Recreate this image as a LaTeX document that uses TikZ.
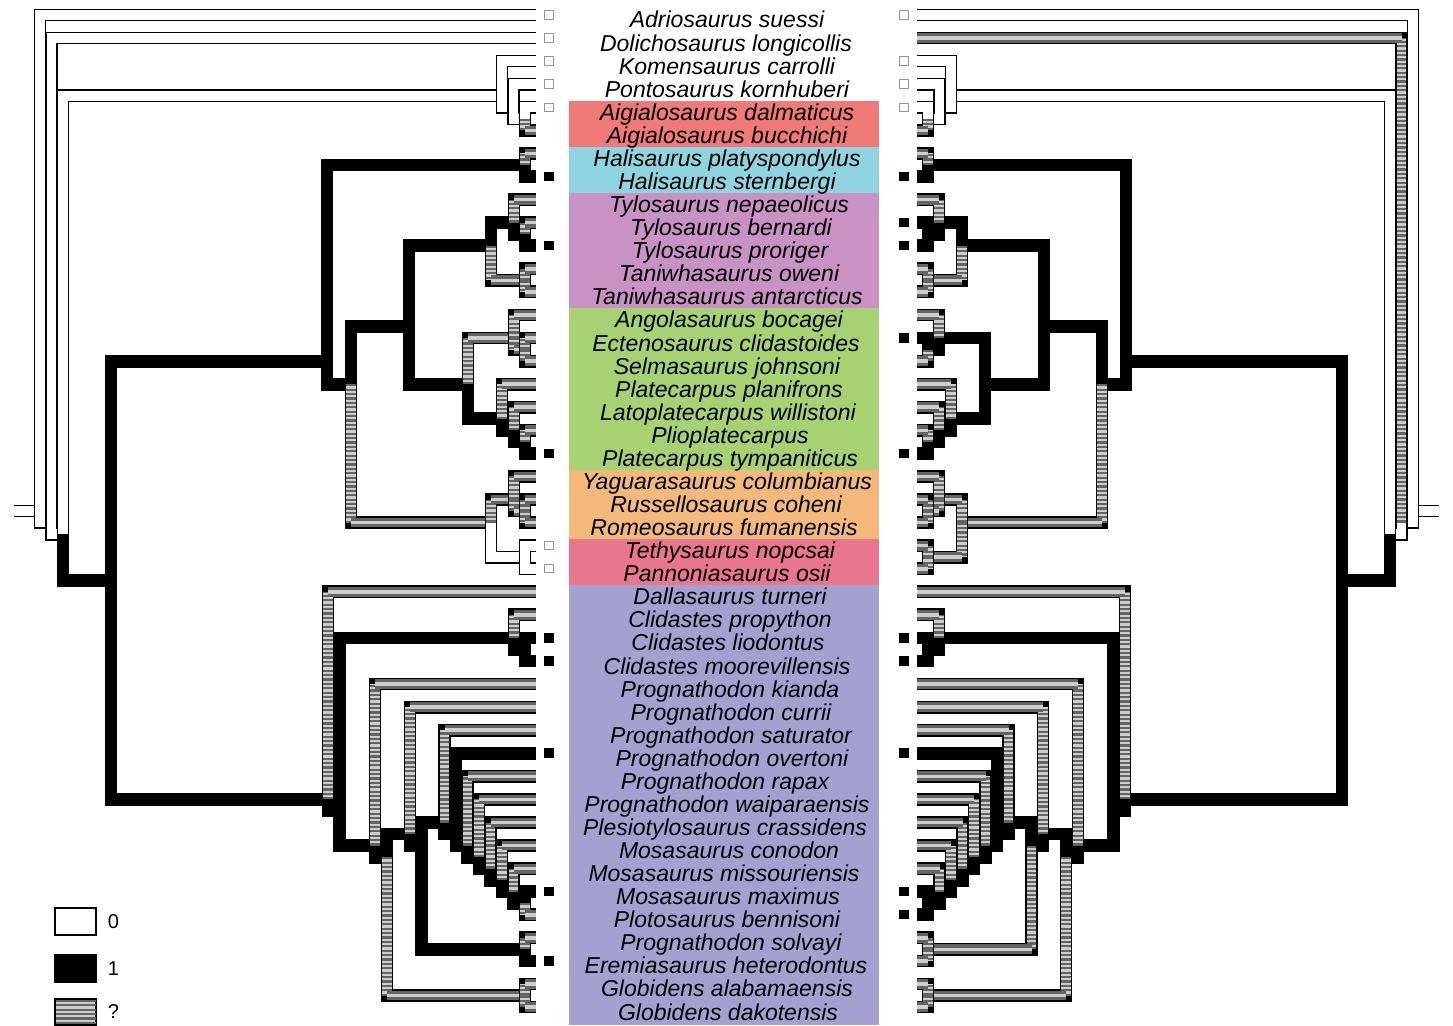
\documentclass[tikz,border=0pt]{standalone}
\usepackage{fontspec}
\setmainfont{Liberation Sans}
\usetikzlibrary{positioning}

\definecolor{qdark}{RGB}{100,100,100}
\definecolor{qlight}{RGB}{205,205,205}
\definecolor{sqedge}{RGB}{150,150,150}
\definecolor{aigcol}{RGB}{240,122,120}
\definecolor{halcol}{RGB}{143,212,224}
\definecolor{tylcol}{RGB}{200,147,196}
\definecolor{plicol}{RGB}{168,209,114}
\definecolor{yagcol}{RGB}{243,185,122}
\definecolor{tetcol}{RGB}{233,118,143}
\definecolor{moscol}{RGB}{164,161,209}

\newif\ifleftside

\tikzset{
  outline/.style={line width=12.8pt, black, line join=miter, line cap=square},
  st-w/.style={line width=9.8pt, white, line join=miter, line cap=square},
  st-b/.style={line width=9.8pt, black, line join=miter, line cap=square},
  qvert/.style={line width=9.8pt, qlight, line cap=square},
  qvertdash/.style={line width=9.8pt, qdark, line cap=butt, dash pattern=on 2.2pt off 2.2pt},
  qhor/.style={line width=9.8pt, qdark, line cap=square},
  qhorline/.style={line width=3.6pt, qlight, line cap=square},
  sq0/.style={draw=sqedge, fill=white, line width=1pt, minimum size=8.5pt, inner sep=0pt},
  sq1/.style={fill=black, minimum size=9.5pt, inner sep=0pt},
  taxon/.style={font=\fontsize{23}{27}\selectfont\itshape, anchor=base, inner sep=0pt},
  legbox/.style={draw, line width=1.3pt, minimum width=41pt, minimum height=27pt, inner sep=0pt},
  leglab/.style={font=\fontsize{20}{24}\selectfont, inner sep=0pt}
}

% one branch: parent, child, state on the left tree, state on the right tree
\newcommand{\br}[4]{%
  \ifleftside\def\brst{#3}\else\def\brst{#4}\fi
  \draw[outline] (#1) |- (#2);
  \if q\brst
    \draw[qvert] (#1) -- (#1 |- #2);
    \draw[qvertdash] (#1) -- (#1 |- #2);
    \draw[qhor] (#1 |- #2) -- (#2);
    \draw[qhorline] (#1 |- #2) -- (#2);
  \else\if w\brst
    \draw[st-w] (#1) |- (#2);
  \else
    \draw[st-b] (#1) |- (#2);
  \fi\fi}

\newcommand{\phylotree}{%
  % tips
  \coordinate (adr) at (535.6, 15.0);
  \coordinate (dol) at (535.6, 38.1);
  \coordinate (kom) at (535.6, 61.1);
  \coordinate (pon) at (535.6, 84.2);
  \coordinate (adal) at (535.6, 107.3);
  \coordinate (abuc) at (535.6, 130.4);
  \coordinate (hpla) at (535.6, 153.4);
  \coordinate (hste) at (535.6, 176.5);
  \coordinate (tnep) at (535.6, 199.6);
  \coordinate (tber) at (535.6, 222.6);
  \coordinate (tpro) at (535.6, 245.7);
  \coordinate (town) at (535.6, 268.8);
  \coordinate (tant) at (535.6, 291.8);
  \coordinate (ango) at (535.6, 314.9);
  \coordinate (ecte) at (535.6, 338.0);
  \coordinate (selm) at (535.6, 361.1);
  \coordinate (ppla) at (535.6, 384.1);
  \coordinate (lwil) at (535.6, 407.2);
  \coordinate (plio) at (535.6, 430.3);
  \coordinate (ptym) at (535.6, 453.3);
  \coordinate (yagu) at (535.6, 476.4);
  \coordinate (russ) at (535.6, 499.5);
  \coordinate (rome) at (535.6, 522.5);
  \coordinate (teth) at (535.6, 545.6);
  \coordinate (pann) at (535.6, 568.7);
  \coordinate (dall) at (535.6, 591.8);
  \coordinate (cpro) at (535.6, 614.8);
  \coordinate (clio) at (535.6, 637.9);
  \coordinate (cmoo) at (535.6, 661.0);
  \coordinate (pkia) at (535.6, 684.0);
  \coordinate (pcur) at (535.6, 707.1);
  \coordinate (psat) at (535.6, 730.2);
  \coordinate (pove) at (535.6, 753.2);
  \coordinate (prap) at (535.6, 776.3);
  \coordinate (pwai) at (535.6, 799.4);
  \coordinate (pcra) at (535.6, 822.5);
  \coordinate (mcon) at (535.6, 845.5);
  \coordinate (mmis) at (535.6, 868.6);
  \coordinate (mmax) at (535.6, 891.7);
  \coordinate (pben) at (535.6, 914.7);
  \coordinate (psol) at (535.6, 937.8);
  \coordinate (eher) at (535.6, 960.9);
  \coordinate (gala) at (535.6, 983.9);
  \coordinate (gdak) at (535.6, 1007.0);
  % inner nodes
  \coordinate (base) at (14.4, 511.0);
  \coordinate (root) at (40, 511.0);
  \coordinate (n1) at (51.5, 522.5);
  \coordinate (n2) at (63, 534.1);
  \coordinate (kom1) at (502, 95.7);
  \coordinate (kom2) at (513.5, 107.3);
  \coordinate (kom3) at (525, 118.8);
  \coordinate (n3) at (111, 580.2);
  \coordinate (clA) at (327, 361.1);
  \coordinate (hali) at (525, 165.0);
  \coordinate (clB) at (351, 384.1);
  \coordinate (clC) at (409, 326.4);
  \coordinate (tylo) at (491, 245.7);
  \coordinate (tyl) at (514, 222.6);
  \coordinate (tbp) at (525, 234.2);
  \coordinate (tani) at (525, 280.3);
  \coordinate (plat) at (468, 384.1);
  \coordinate (aes) at (514, 338.0);
  \coordinate (es) at (525, 349.5);
  \coordinate (pl1) at (502, 418.7);
  \coordinate (pl2) at (514, 430.3);
  \coordinate (pl3) at (525, 441.8);
  \coordinate (clD) at (491, 522.5);
  \coordinate (yrr) at (514, 499.5);
  \coordinate (rr) at (525, 511.0);
  \coordinate (tp) at (525, 557.1);
  \coordinate (mosa) at (328, 799.4);
  \coordinate (m2) at (339.5, 810.9);
  \coordinate (clid) at (514, 637.9);
  \coordinate (clm) at (525, 649.4);
  \coordinate (m3) at (375, 845.5);
  \coordinate (m4) at (387, 857.1);
  \coordinate (glob) at (525, 995.5);
  \coordinate (m5) at (410, 834.0);
  \coordinate (m6) at (421.5, 845.5);
  \coordinate (se) at (525, 949.3);
  \coordinate (m7) at (444.5, 822.5);
  \coordinate (m8) at (456, 834.0);
  \coordinate (m9) at (467.5, 845.5);
  \coordinate (m10) at (479, 857.1);
  \coordinate (m11) at (490.5, 868.6);
  \coordinate (m12) at (502, 880.1);
  \coordinate (m13) at (513.5, 891.7);
  \coordinate (m14) at (525, 903.2);
  % branches, parents first
  \br{base}{root}{w}{w}
  \br{root}{adr}{w}{w}
  \br{root}{n1}{w}{w}
  \br{n1}{dol}{w}{q}
  \br{n1}{n2}{w}{w}
  \br{n2}{kom1}{w}{w}
  \br{kom1}{kom}{w}{w}
  \br{kom1}{kom2}{w}{w}
  \br{kom2}{pon}{w}{w}
  \br{kom2}{kom3}{w}{w}
  \br{kom3}{adal}{w}{w}
  \br{kom3}{abuc}{q}{q}
  \br{n2}{n3}{b}{b}
  \br{n3}{clA}{b}{b}
  \br{clA}{hali}{b}{b}
  \br{hali}{hpla}{q}{q}
  \br{hali}{hste}{b}{b}
  \br{clA}{clB}{b}{b}
  \br{clB}{clC}{b}{b}
  \br{clC}{tylo}{b}{b}
  \br{tylo}{tyl}{b}{b}
  \br{tyl}{tnep}{q}{q}
  \br{tyl}{tbp}{b}{b}
  \br{tbp}{tber}{q}{b}
  \br{tbp}{tpro}{b}{b}
  \br{tylo}{tani}{q}{q}
  \br{tani}{town}{q}{q}
  \br{tani}{tant}{q}{q}
  \br{clC}{plat}{b}{b}
  \br{plat}{aes}{q}{b}
  \br{aes}{ango}{q}{q}
  \br{aes}{es}{q}{b}
  \br{es}{ecte}{q}{b}
  \br{es}{selm}{q}{q}
  \br{plat}{pl1}{b}{b}
  \br{pl1}{ppla}{q}{q}
  \br{pl1}{pl2}{b}{b}
  \br{pl2}{lwil}{q}{q}
  \br{pl2}{pl3}{b}{b}
  \br{pl3}{plio}{q}{q}
  \br{pl3}{ptym}{b}{b}
  \br{clB}{clD}{q}{q}
  \br{clD}{yrr}{q}{q}
  \br{yrr}{yagu}{q}{q}
  \br{yrr}{rr}{q}{q}
  \br{rr}{russ}{q}{q}
  \br{rr}{rome}{q}{q}
  \br{clD}{tp}{w}{q}
  \br{tp}{teth}{w}{q}
  \br{tp}{pann}{w}{q}
  \br{n3}{mosa}{b}{b}
  \br{mosa}{dall}{q}{q}
  \br{mosa}{m2}{b}{b}
  \br{m2}{clid}{b}{b}
  \br{clid}{cpro}{q}{q}
  \br{clid}{clm}{b}{b}
  \br{clm}{clio}{b}{b}
  \br{clm}{cmoo}{b}{b}
  \br{m2}{m3}{b}{b}
  \br{m3}{pkia}{q}{q}
  \br{m3}{m4}{b}{b}
  \br{m4}{m5}{b}{b}
  \br{m5}{pcur}{q}{q}
  \br{m5}{m6}{b}{b}
  \br{m6}{m7}{b}{b}
  \br{m7}{psat}{q}{q}
  \br{m7}{m8}{b}{b}
  \br{m8}{pove}{b}{b}
  \br{m8}{m9}{b}{b}
  \br{m9}{prap}{q}{q}
  \br{m9}{m10}{b}{b}
  \br{m10}{pwai}{q}{q}
  \br{m10}{m11}{b}{b}
  \br{m11}{pcra}{q}{q}
  \br{m11}{m12}{b}{b}
  \br{m12}{mcon}{q}{q}
  \br{m12}{m13}{b}{b}
  \br{m13}{mmis}{q}{q}
  \br{m13}{m14}{b}{b}
  \br{m14}{mmax}{b}{b}
  \br{m14}{pben}{q}{b}
  \br{m6}{se}{b}{q}
  \br{se}{psol}{q}{q}
  \br{se}{eher}{b}{q}
  \br{m4}{glob}{q}{q}
  \br{glob}{gala}{q}{q}
  \br{glob}{gdak}{q}{q}
}

\begin{document}
\begin{tikzpicture}[x=1pt, y=-1pt]
  \useasboundingbox (0,0) rectangle (1453,1025);

  % Clade bands
  \fill[aigcol] (569,100.7) rectangle (879,146.9);
  \fill[halcol] (569,146.9) rectangle (879,193.1);
  \fill[tylcol] (569,193.1) rectangle (879,308.4);
  \fill[plicol] (569,308.4) rectangle (879,469.9);
  \fill[yagcol] (569,469.9) rectangle (879,539.1);
  \fill[tetcol] (569,539.1) rectangle (879,585.3);
  \fill[moscol] (569,585.3) rectangle (879,1025);

  % Left tree
  \begin{scope}[name prefix=L-]
    \leftsidetrue
    \phylotree
    \node[sq0] (sq-adr) at (549, 15.0) {};
    \node[sq0] (sq-dol) at (549, 38.1) {};
    \node[sq0] (sq-kom) at (549, 61.1) {};
    \node[sq0] (sq-pon) at (549, 84.2) {};
    \node[sq0] (sq-adal) at (549, 107.3) {};
    \node[sq1] (sq-hste) at (549, 176.5) {};
    \node[sq1] (sq-tpro) at (549, 245.7) {};
    \node[sq1] (sq-ptym) at (549, 453.3) {};
    \node[sq0] (sq-teth) at (549, 545.6) {};
    \node[sq0] (sq-pann) at (549, 568.7) {};
    \node[sq1] (sq-clio) at (549, 637.9) {};
    \node[sq1] (sq-cmoo) at (549, 661.0) {};
    \node[sq1] (sq-pove) at (549, 753.2) {};
    \node[sq1] (sq-mmax) at (549, 891.7) {};
    \node[sq1] (sq-eher) at (549, 960.9) {};
  \end{scope}

  % Right tree
  \begin{scope}[name prefix=R-, xshift=1453pt, xscale=-1]
    \leftsidefalse
    \phylotree
    \node[sq0] (sq-adr) at (549, 15.0) {};
    \node[sq0] (sq-kom) at (549, 61.1) {};
    \node[sq0] (sq-pon) at (549, 84.2) {};
    \node[sq0] (sq-adal) at (549, 107.3) {};
    \node[sq1] (sq-hste) at (549, 176.5) {};
    \node[sq1] (sq-tber) at (549, 222.6) {};
    \node[sq1] (sq-tpro) at (549, 245.7) {};
    \node[sq1] (sq-ecte) at (549, 338.0) {};
    \node[sq1] (sq-ptym) at (549, 453.3) {};
    \node[sq1] (sq-clio) at (549, 637.9) {};
    \node[sq1] (sq-cmoo) at (549, 661.0) {};
    \node[sq1] (sq-pove) at (549, 753.2) {};
    \node[sq1] (sq-mmax) at (549, 891.7) {};
    \node[sq1] (sq-pben) at (549, 914.7) {};
  \end{scope}

  % Taxon names
  \node[taxon] (lab-adr) at (727, 28.0) {Adriosaurus suessi};
  \node[taxon] (lab-dol) at (726, 51.1) {Dolichosaurus longicollis};
  \node[taxon] (lab-kom) at (727, 74.1) {Komensaurus carrolli};
  \node[taxon] (lab-pon) at (727, 97.2) {Pontosaurus kornhuberi};
  \node[taxon] (lab-adal) at (727, 120.3) {Aigialosaurus dalmaticus};
  \node[taxon] (lab-abuc) at (727, 143.4) {Aigialosaurus bucchichi};
  \node[taxon] (lab-hpla) at (727, 166.4) {Halisaurus platyspondylus};
  \node[taxon] (lab-hste) at (727, 189.5) {Halisaurus sternbergi};
  \node[taxon] (lab-tnep) at (729, 212.6) {Tylosaurus nepaeolicus};
  \node[taxon] (lab-tber) at (731, 235.6) {Tylosaurus bernardi};
  \node[taxon] (lab-tpro) at (730, 258.7) {Tylosaurus proriger};
  \node[taxon] (lab-town) at (729, 281.8) {Taniwhasaurus oweni};
  \node[taxon] (lab-tant) at (727, 304.8) {Taniwhasaurus antarcticus};
  \node[taxon] (lab-ango) at (729, 327.9) {Angolasaurus bocagei};
  \node[taxon] (lab-ecte) at (726, 351.0) {Ectenosaurus clidastoides};
  \node[taxon] (lab-selm) at (727, 374.1) {Selmasaurus johnsoni};
  \node[taxon] (lab-ppla) at (729, 397.1) {Platecarpus planifrons};
  \node[taxon] (lab-lwil) at (728, 420.2) {Latoplatecarpus willistoni};
  \node[taxon] (lab-plio) at (730, 443.3) {Plioplatecarpus};
  \node[taxon] (lab-ptym) at (730, 466.3) {Platecarpus tympaniticus};
  \node[taxon] (lab-yagu) at (727, 489.4) {Yaguarasaurus columbianus};
  \node[taxon] (lab-russ) at (726, 512.5) {Russellosaurus coheni};
  \node[taxon] (lab-rome) at (724, 535.5) {Romeosaurus fumanensis};
  \node[taxon] (lab-teth) at (730, 558.6) {Tethysaurus nopcsai};
  \node[taxon] (lab-pann) at (727, 581.7) {Pannoniasaurus osii};
  \node[taxon] (lab-dall) at (730, 604.8) {Dallasaurus turneri};
  \node[taxon] (lab-cpro) at (730, 627.8) {Clidastes propython};
  \node[taxon] (lab-clio) at (728, 650.9) {Clidastes liodontus};
  \node[taxon] (lab-cmoo) at (727, 674.0) {Clidastes moorevillensis};
  \node[taxon] (lab-pkia) at (730, 697.0) {Prognathodon kianda};
  \node[taxon] (lab-pcur) at (731, 720.1) {Prognathodon currii};
  \node[taxon] (lab-psat) at (731, 743.2) {Prognathodon saturator};
  \node[taxon] (lab-pove) at (732, 766.2) {Prognathodon overtoni};
  \node[taxon] (lab-prap) at (725, 789.3) {Prognathodon rapax};
  \node[taxon] (lab-pwai) at (727, 812.4) {Prognathodon waiparaensis};
  \node[taxon] (lab-pcra) at (725, 835.5) {Plesiotylosaurus crassidens};
  \node[taxon] (lab-mcon) at (729, 858.5) {Mosasaurus conodon};
  \node[taxon] (lab-mmis) at (724, 881.6) {Mosasaurus missouriensis};
  \node[taxon] (lab-mmax) at (728, 904.7) {Mosasaurus maximus};
  \node[taxon] (lab-pben) at (727, 927.7) {Plotosaurus bennisoni};
  \node[taxon] (lab-psol) at (731, 950.8) {Prognathodon solvayi};
  \node[taxon] (lab-eher) at (726, 973.9) {Eremiasaurus heterodontus};
  \node[taxon] (lab-gala) at (727, 996.9) {Globidens alabamaensis};
  \node[taxon] (lab-gdak) at (728, 1020.0) {Globidens dakotensis};

  % Legend
  \node[legbox, fill=white] (leg0) at (75.5, 921.5) {};
  \node[leglab, right=11pt of leg0] (leg0-txt) {0};
  \node[legbox, fill=black] (leg1) at (75.5, 968.5) {};
  \node[leglab, right=11pt of leg1] (leg1-txt) {1};
  \node[legbox, fill=qlight, minimum height=25pt] (legq) at (75.5, 1012) {};
  \draw[qdark, line width=40pt, dash pattern=on 2.2pt off 2.2pt] ([yshift=-1pt]legq.north) -- ([yshift=1pt]legq.south);
  \draw[line width=1.3pt] (legq.north west) rectangle (legq.south east);
  \node[leglab, right=11pt of legq] (legq-txt) {?};
\end{tikzpicture}
\end{document}
